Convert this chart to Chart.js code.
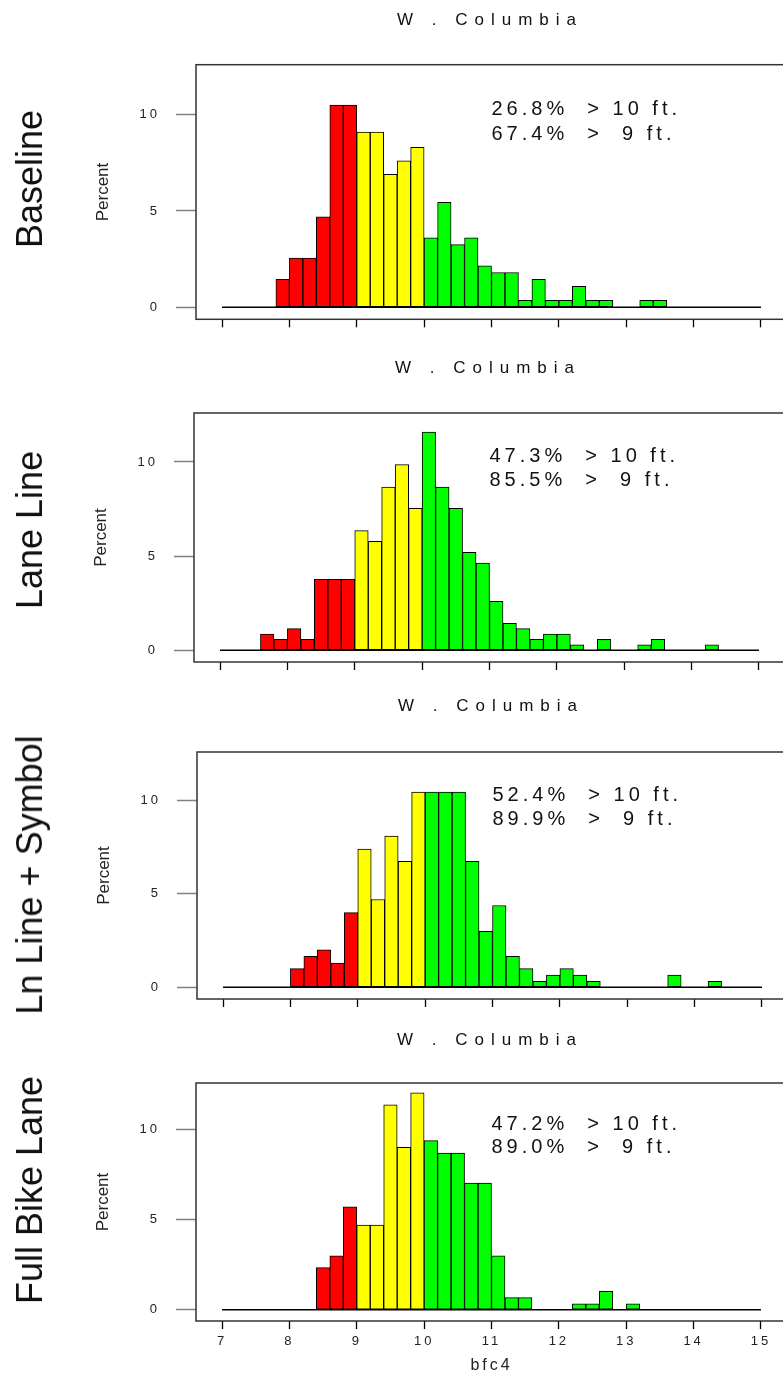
<!DOCTYPE html>
<html><head><meta charset="utf-8">
<script src="https://cdn.jsdelivr.net/npm/chart.js@4"></script>
<style>
html,body{margin:0;padding:0;width:783px;height:1379px;overflow:hidden;background:#fff;}
canvas{position:absolute;}
.t{position:absolute;font-family:"Liberation Sans",Arial,sans-serif;color:#111;white-space:nowrap;}
.title{font-size:17px;letter-spacing:7px;line-height:20px;transform:translate(-50%,-50%);}
.row{font-size:36px;line-height:36px;transform:translate(-50%,-50%) rotate(-90deg);}
</style></head><body>
<script>
// ---- data ----
const binCenters = [7.1,7.3,7.5,7.7,7.9,8.1,8.3,8.5,8.7,8.9,
                    9.1,9.3,9.5,9.7,9.9,10.1,10.3,10.5,10.7,10.9,
                    11.1,11.3,11.5,11.7,11.9,12.1,12.3,12.5,12.7,12.9,
                    13.1,13.3,13.5,13.7,13.9,14.1,14.3,14.5,14.7,14.9];
const baselinePct = [0,0,0,0,1.45,2.55,2.55,4.7,10.5,10.5,
                     9.1,9.1,6.9,7.6,8.3,3.6,5.45,3.25,3.6,2.15,
                     1.8,1.8,0.36,1.45,0.36,0.36,1.08,0.36,0.36,0,
                     0,0.36,0.36,0,0,0,0,0,0,0];
const laneLinePct = [0,0,0,0.85,0.57,1.14,0.57,3.76,3.76,3.76,
                     6.35,5.78,8.67,9.86,7.54,11.58,8.67,7.54,5.2,4.63,
                     2.59,1.42,1.14,0.57,0.85,0.85,0.28,0,0.57,0,
                     0,0.28,0.57,0,0,0,0.28,0,0,0];
const lnSymbolPct = [0,0,0,0,0,1.0,1.65,2.0,1.3,4.0,
                     7.4,4.7,8.1,6.75,10.45,10.45,10.45,10.45,6.75,3.0,
                     4.38,1.65,1.0,0.32,0.65,1.0,0.65,0.32,0,0,
                     0,0,0,0.65,0,0,0.32,0,0,0];
const fullBikePct = [0,0,0,0,0,0,0,2.34,2.99,5.72,
                     4.7,4.7,11.38,9.03,12.06,9.4,8.7,8.7,7.03,7.03,
                     2.99,0.67,0.67,0,0,0,0.33,0.33,1.02,0,
                     0.33,0,0,0,0,0,0,0,0,0];
const panelNames = ['Baseline','Lane Line','Ln Line + Symbol','Full Bike Lane'];
const panelValues = [baselinePct, laneLinePct, lnSymbolPct, fullBikePct];
const over10 = [26.8, 47.3, 52.4, 47.2];
const over9  = [67.4, 85.5, 89.9, 89.0];
const siteTitle = 'W . Columbia';
const xTicks = [7,8,9,10,11,12,13,14,15];
const yTicks = [0,5,10];
const xLabel = 'bfc4';
const yLabel = 'Percent';

// ---- layout ----
const FONT = '"Liberation Sans", Arial, sans-serif';
Chart.defaults.font.family = FONT;
const panels = [
  {top:0,    h:345, left:0,  plotTop:64.7, plotBottom:319.3, titleY:20,   rowY:179},
  {top:345,  h:345, left:-2, plotTop:413,  plotBottom:662,   titleY:368,  rowY:530},
  {top:690,  h:335, left:1,  plotTop:752,  plotBottom:999,   titleY:706,  rowY:875},
  {top:1025, h:354, left:0,  plotTop:1083, plotBottom:1321,  titleY:1040, rowY:1190}
];
const annotX = 11, annotY = [10, 8.7];

const framePlugin = {
  id:'frame',
  beforeDraw(chart){ chart.ctx.letterSpacing = '0px'; },
  afterDatasetsDraw(chart, args, opts){
    const ctx = chart.ctx, xs = chart.scales.x, ys = chart.scales.y, i = opts.idx;
    ctx.save();
    ctx.letterSpacing = '4px';
    ctx.font = '20px ' + FONT;
    ctx.fillStyle = '#111';
    ctx.textAlign = 'left';
    ctx.textBaseline = 'alphabetic';
    const x = xs.getPixelForValue(annotX);
    ctx.fillText(over10[i].toFixed(1) + '%  > 10 ft.', x, ys.getPixelForValue(annotY[0]));
    ctx.fillText(over9[i].toFixed(1) + '%  >  9 ft.', x, ys.getPixelForValue(annotY[1]));
    ctx.restore();
    ctx.letterSpacing = '3px';
  },
  afterDraw(chart){
    const ctx = chart.ctx, a = chart.chartArea;
    ctx.letterSpacing = '0px';
    ctx.save();
    ctx.strokeStyle = '#333';
    ctx.lineWidth = 1.5;
    ctx.strokeRect(a.left, a.top, a.right - a.left, a.bottom - a.top);
    ctx.restore();
  }
};

panels.forEach((L, i) => {
  const cv = document.createElement('canvas');
  cv.width = 800; cv.height = L.h;
  cv.style.left = L.left + 'px'; cv.style.top = L.top + 'px';
  cv.style.width = '800px'; cv.style.height = L.h + 'px';
  document.body.appendChild(cv);

  const t = document.createElement('div');
  t.className = 't title'; t.textContent = siteTitle;
  t.style.left = (490 + L.left) + 'px'; t.style.top = L.titleY + 'px';
  document.body.appendChild(t);

  const r = document.createElement('div');
  r.className = 't row'; r.textContent = panelNames[i];
  r.style.left = '29.5px'; r.style.top = L.rowY + 'px';
  document.body.appendChild(r);

  const vals = panelValues[i];
  new Chart(cv, {
    type:'bar',
    data:{ datasets:[
      { type:'bar',
        data: binCenters.map((c,k)=>({x:c, y:vals[k]})),
        backgroundColor: binCenters.map(c => c < 9 ? '#ff0000' : (c < 10 ? '#ffff00' : '#00ff00')),
        borderColor:'#000', borderWidth:1, borderSkipped:false,
        barPercentage:1, categoryPercentage:1, grouped:false },
      { type:'line',
        data:[{x:xTicks[0], y:0}, {x:xTicks[xTicks.length-1], y:0}],
        borderColor:'#000', borderWidth:1.5, pointRadius:0 }
    ]},
    options:{
      responsive:false, animation:false, devicePixelRatio:1,
      layout:{padding:{left:0, right:13, top:L.plotTop - L.top, bottom:0}},
      plugins:{legend:{display:false}, tooltip:{enabled:false}, frame:{idx:i}},
      scales:{
        x:{ type:'linear', min:6.614, max:15.386, offset:false,
            afterBuildTicks:s=>{ s.ticks = xTicks.map(v=>({value:v})); },
            afterFit:s=>{ s.height = L.top + L.h - L.plotBottom; },
            grid:{drawOnChartArea:false, offset:false, tickLength:8, tickColor:'#000', tickWidth:1.3, z:1},
            border:{display:false},
            ticks:{display:i===3, font:{size:13}, color:'#222', padding:5, maxRotation:0, autoSkip:false, z:1},
            title:{display:i===3, text:xLabel, font:{size:16}, color:'#222', padding:{top:0, bottom:3.7}} },
        y:{ min:-0.63, max:12.6,
            afterBuildTicks:s=>{ s.ticks = yTicks.map(v=>({value:v})); },
            afterFit:s=>{ s.width = 196; },
            grid:{drawOnChartArea:false, tickLength:20, tickColor:'#808080', tickWidth:1.5},
            border:{display:false},
            ticks:{font:{size:13}, color:'#222', padding:16, z:1},
            title:{display:true, text:yLabel, font:{size:17}, color:'#222', padding:{top:93.3, bottom:0}} }
      }
    },
    plugins:[framePlugin]
  });
});
</script>
</body></html>
